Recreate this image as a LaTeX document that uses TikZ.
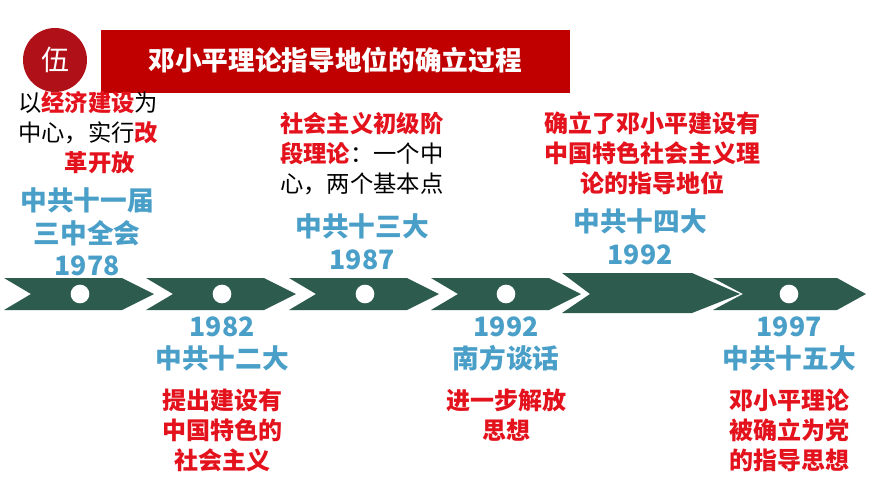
\documentclass[tikz,border=0pt]{standalone}
\usepackage{fontspec}
\newfontfamily\cjk{Noto Sans CJK SC}
\definecolor{cgreen}{HTML}{2D5C4F}
\definecolor{cblue}{HTML}{4A9FC8}
\definecolor{cred}{HTML}{E3121C}
\definecolor{banner}{HTML}{C00000}
\definecolor{seal}{HTML}{B01018}
\begin{document}
\begin{tikzpicture}[x=0.75pt,y=-0.75pt,
  chev/.style={fill=cgreen,draw=none},
  dot/.style={circle,fill=white,minimum size=14pt,inner sep=0pt},
  blue/.style={font=\cjk\bfseries\fontsize{20}{24.5}\selectfont,text=cblue,align=center,inner sep=0pt},
  redt/.style={font=\cjk\bfseries\fontsize{18}{22.5}\selectfont,text=cred,align=center,inner sep=0pt},
  mixt/.style={font=\cjk\fontsize{17.5}{22.5}\selectfont,text=black,align=left,inner sep=0pt}]
\fill[white] (0,0) rectangle (870,489);
% title
\fill[banner] (101,30) rectangle (570,93);
\node[font=\cjk\bfseries\fontsize{20}{22}\selectfont,text=white] (title) at (335,60) {邓小平理论指导地位的确立过程};
\node[circle,fill=seal,minimum size=48pt,inner sep=0pt,font=\cjk\fontsize{21}{22}\selectfont,text=white] (seal) at (55,60) {伍};
% chevrons
\foreach \L/\n in {4/1,146/2,289/3,431/4}{
  \fill[chev] (\L,278) -- (\L+118,278) -- (\L+150,294) -- (\L+118,310) -- (\L,310) -- (\L+27,294) -- cycle;
}
\fill[chev] (562,273) -- (692,273) -- (740,294) -- (692,313) -- (562,313) -- (590,294) -- cycle;
\fill[chev] (713,278) -- (837,278) -- (866,294) -- (837,310) -- (713,310) -- (743,294) -- cycle;
\node[dot] (d1) at (80,294) {};
\node[dot] (d2) at (222,294) {};
\node[dot] (d3) at (365,294) {};
\node[dot] (d4) at (506,294) {};
\node[dot] (d5) at (789,294) {};
% 1978
\node[mixt,anchor=north west] (t1) at (18,91) {以\textcolor{cred}{\bfseries 经济建设}为\\中心，实行\textcolor{cred}{\bfseries 改}\\\hspace*{2em}\textcolor{cred}{\bfseries 革开放}};
\node[blue] (b1) at (87,232) {中共十一届\\三中全会\\1978};
% 1982
\node[blue] (b2) at (222,344) {1982\\中共十二大};
\node[redt] (r2) at (222,430) {提出建设有\\中国特色的\\社会主义};
% 1987
\node[mixt,anchor=north west] (t3) at (280,112) {\textcolor{cred}{\bfseries 社会主义初级阶}\\\textcolor{cred}{\bfseries 段理论}：一个中\\心，两个基本点};
\node[blue] (b3) at (362,242) {中共十三大\\1987};
% 1992 top
\node[redt] (r4) at (652,153) {确立了邓小平建设有\\中国特色社会主义理\\论的指导地位};
\node[blue] (b4) at (640,237) {中共十四大\\1992};
% 1992 bottom
\node[blue] (b5) at (506,344) {1992\\南方谈话};
\node[redt] (r5) at (506,415) {进一步解放\\思想};
% 1997
\node[blue] (b6) at (789,344) {1997\\中共十五大};
\node[redt] (r6) at (789,430) {邓小平理论\\被确立为党\\的指导思想};
\end{tikzpicture}
\end{document}
